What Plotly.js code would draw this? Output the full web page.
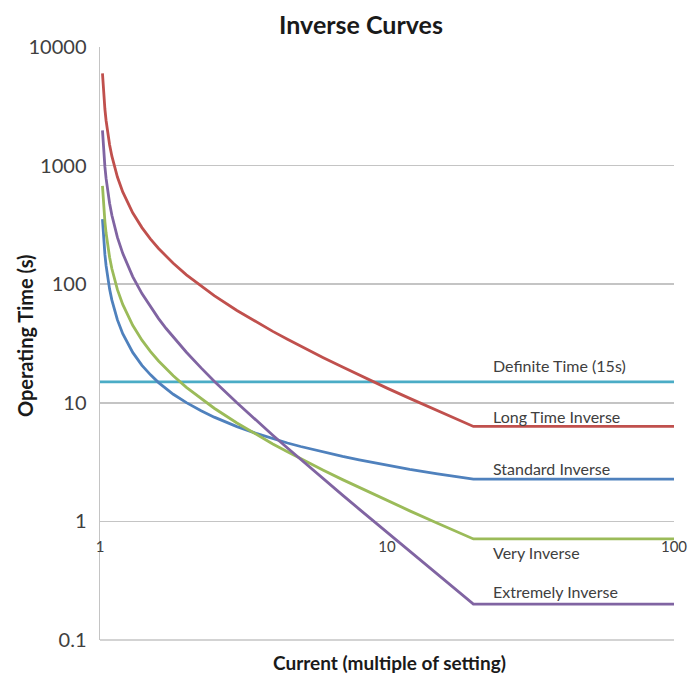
<!DOCTYPE html>
<html>
<head>
<meta charset="utf-8">
<script src="https://cdn.plot.ly/plotly-3.0.1.min.js"></script>
<style>html,body{margin:0;padding:0;background:#fff;}#chart{width:689px;height:673px;}</style>
</head>
<body>
<div id="chart"></div>
<script>
// Current as multiple of setting
const multiples = [1.02, 1.03, 1.04, 1.05, 1.06, 1.07, 1.08, 1.1, 1.12, 1.15, 1.2, 1.25, 1.3, 1.4, 1.5, 1.6, 1.7, 1.8, 2, 2.25, 2.5, 3, 3.5, 4, 4.5, 5, 6, 7, 8, 10, 12, 15, 20, 100];
// Operating times (s)
const longTimeInverse = [6000, 4000, 3000, 2400, 2000, 1714, 1500, 1200, 1000, 800, 600, 480, 400, 300, 240, 200, 171, 150, 120, 96, 80, 60, 48, 40, 34.3, 30, 24, 20, 17.1, 13.3, 10.9, 8.57, 6.32, 6.32];
const standardInverse = [353.4, 236.7, 178.4, 143.4, 120.1, 103.4, 90.9, 73.4, 61.7, 50.0, 38.3, 31.3, 26.6, 20.7, 17.2, 14.8, 13.1, 11.8, 10.03, 8.56, 7.57, 6.30, 5.52, 4.98, 4.58, 4.28, 3.84, 3.53, 3.30, 2.97, 2.75, 2.52, 2.27, 2.27];
const veryInverse = [675, 450, 337.5, 270, 225, 192.9, 168.75, 135, 112.5, 90, 67.5, 54, 45, 33.75, 27, 22.5, 19.3, 16.9, 13.5, 10.8, 9, 6.75, 5.4, 4.5, 3.86, 3.375, 2.7, 2.25, 1.93, 1.5, 1.227, 0.964, 0.711, 0.711];
const extremelyInverse = [1980, 1314, 980, 780, 647, 552, 481, 381, 314.5, 248, 182, 142.2, 116, 83.3, 64, 51.3, 42.3, 35.7, 26.7, 19.7, 15.2, 10, 7.11, 5.33, 4.16, 3.33, 2.29, 1.667, 1.27, 0.808, 0.559, 0.358, 0.2005, 0.2005];
const definiteX = [1, 100];
const definiteTime = [15, 15];

const seriesNames = ["Definite Time (15s)", "Long Time Inverse", "Standard Inverse", "Very Inverse", "Extremely Inverse"];
const yTickVals = [0.1, 1, 10, 100, 1000, 10000];
const yTickText = ["0.1", "1", "10", "100", "1000", "10000"];
const xTickVals = [1, 10, 100];
const xTickText = ["1", "10", "100"];

const FONT = "Lato, 'Open Sans', sans-serif";
const LW = 2.8;
const GRID = "#c4c4c4";

const traces = [
  {x: definiteX, y: definiteTime, name: seriesNames[0], mode: "lines", line: {color: "#4BACC6", width: LW}},
  {x: multiples, y: longTimeInverse, name: seriesNames[1], mode: "lines", line: {color: "#C0504D", width: LW}},
  {x: multiples, y: standardInverse, name: seriesNames[2], mode: "lines", line: {color: "#4F81BD", width: LW}},
  {x: multiples, y: veryInverse, name: seriesNames[3], mode: "lines", line: {color: "#9BBB59", width: LW}},
  {x: multiples, y: extremelyInverse, name: seriesNames[4], mode: "lines", line: {color: "#8064A2", width: LW}}
];

function lab(text, y) {
  return {x: Math.log10(23), y: Math.log10(y), xref: "x", yref: "y", text: text, showarrow: false,
    xanchor: "left", yanchor: "middle", font: {family: FONT, size: 16, color: "#404040"}};
}

const layout = {
  width: 689, height: 673,
  margin: {l: 100, r: 15, t: 47, b: 33},
  paper_bgcolor: "#fff", plot_bgcolor: "#fff",
  showlegend: false,
  title: {text: "<b>Inverse Curves</b>", x: 361/689, xref: "container", xanchor: "center",
          y: 1 - 25/673, yref: "container", yanchor: "middle",
          font: {family: FONT, size: 25, color: "#1a1a1a"}},
  xaxis: {type: "log", range: [0, 2], anchor: "free", position: 0.2,
          showgrid: false, zeroline: false, showline: false,
          tickmode: "array", tickvals: xTickVals, ticktext: xTickText,
          ticks: "outside", ticklen: 12, tickcolor: "rgba(0,0,0,0)",
          tickfont: {family: FONT, size: 15, color: "#404040"}, automargin: false},
  yaxis: {type: "log", range: [-1, 4],
          showgrid: true, gridcolor: GRID, gridwidth: 1.5,
          zeroline: false, showline: true, linecolor: GRID, linewidth: 1.5,
          tickmode: "array", tickvals: yTickVals, ticktext: yTickText,
          ticks: "outside", ticklen: 8, tickcolor: "rgba(0,0,0,0)",
          tickfont: {family: FONT, size: 20, color: "#404040"}, automargin: false},
  shapes: [
    {type: "line", xref: "paper", yref: "paper", x0: 0, x1: 1, y0: 0, y1: 0, line: {color: GRID, width: 1.5}, layer: "below"}
  ],
  annotations: [
    lab(seriesNames[0], 20.8),
    lab(seriesNames[1], 7.6),
    lab(seriesNames[2], 2.82),
    lab(seriesNames[3], 0.552),
    lab(seriesNames[4], 0.254),
    {x: (389 - 100)/574, y: (640 - 662)/593, xref: "paper", yref: "paper", text: "<b>Current (multiple of setting)</b>",
     showarrow: false, xanchor: "center", yanchor: "middle", font: {family: FONT, size: 19, color: "#1a1a1a"}},
    {x: -75/574, y: (640 - 336)/593, xref: "paper", yref: "paper", text: "<b>Operating Time (s)</b>",
     textangle: -90, showarrow: false, xanchor: "center", yanchor: "middle", font: {family: FONT, size: 20, color: "#1a1a1a"}}
  ]
};

Plotly.newPlot("chart", traces, layout, {displayModeBar: false, staticPlot: true});
</script>
</body>
</html>
